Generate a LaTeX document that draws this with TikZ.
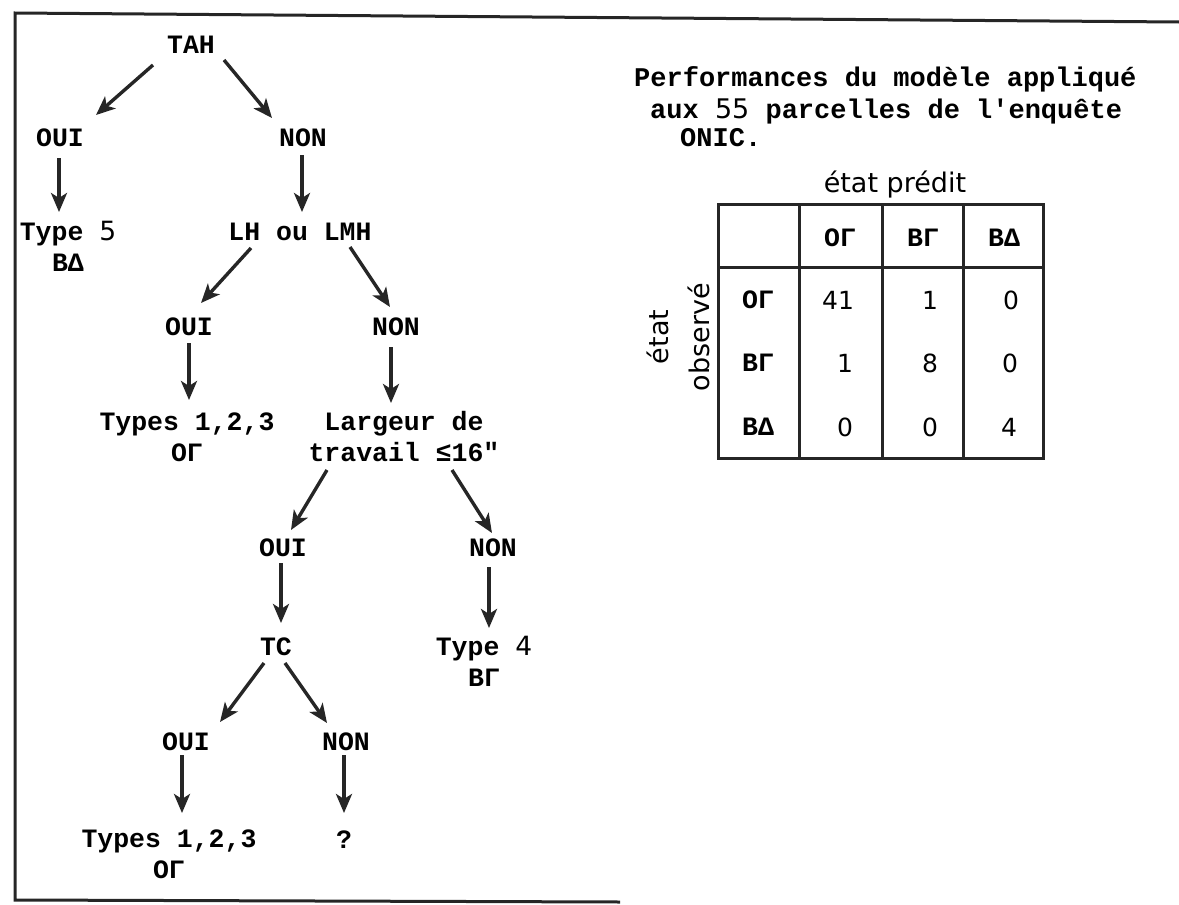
\documentclass[tikz,border=0pt]{standalone}
\usepackage{fontspec}
\setmonofont{Liberation Mono}
\newfontfamily\etatfont{DejaVu Sans}
\usetikzlibrary{arrows.meta}
\tikzset{
  lbl/.style={font=\ttfamily\bfseries\fontsize{26.5}{31}\selectfont, inner sep=0pt,
              anchor=base, align=center},
  ttl/.style={font=\ttfamily\bfseries\fontsize{27}{32}\selectfont, inner sep=0pt,
              anchor=base west, align=left},
  cel/.style={font=\ttfamily\bfseries\fontsize{26.5}{31}\selectfont, inner sep=0pt},
  num/.style={font=\etatfont\fontsize{25}{30}\selectfont, inner sep=0pt},
  eta/.style={font=\etatfont\fontsize{27}{41}\selectfont, inner sep=0pt,
              anchor=base, align=center},
  arr/.style={-{Stealth[length=19pt, width=16pt, inset=5pt]}, line width=3.4pt, draw=black!85},
  trait/.style={line width=3pt, draw=black!85},
}
\begin{document}
\begin{tikzpicture}[x=1pt, y=-1pt]
  \useasboundingbox (0,0) rectangle (1179,905);
  % cadre
  \draw[trait] (1179,22) -- (15,13) -- (15,900) -- (620,902);

  % arbre de decision (base = derniere ligne)
  \node[lbl](tah) at (191,53) {TAH};
  \node[lbl](oui1) at (60,146) {OUI};
  \node[lbl](non1) at (303,146) {NON};
  \node[lbl](t5) at (68,271) {Type {\etatfont\mdseries 5}\\BΔ};
  \node[lbl](lh) at (300,240) {LH ou LMH};
  \node[lbl](oui2) at (189,335) {OUI};
  \node[lbl](non2) at (396,335) {NON};
  \node[lbl](t123a) at (187,461) {Types 1,2,3\\OΓ};
  \node[lbl](larg) at (404,461) {Largeur de\\travail ≤16"};
  \node[lbl](oui3) at (283,556) {OUI};
  \node[lbl](non3) at (493,556) {NON};
  \node[lbl](tc) at (276,655) {TC};
  \node[lbl](t4) at (484,686) {Type {\etatfont\mdseries 4}\\BΓ};
  \node[lbl](oui4) at (186,750) {OUI};
  \node[lbl](non4) at (346,750) {NON};
  \node[lbl](t123b) at (169,878) {Types 1,2,3\\OΓ};
  \node[lbl](inc) at (344,848) {?};

  \draw[arr] ([shift={(-38,12)}]tah.base) -- ([shift={(36,-31)}]oui1.base);
  \draw[arr] ([shift={(33,7)}]tah.base) -- ([shift={(-31,-28)}]non1.base);
  \draw[arr] ([shift={(-1,12)}]oui1.base) -- ([shift={(-9,-59)}]t5.base);
  \draw[arr] ([shift={(-1,9)}]non1.base) -- ([shift={(2,-28)}]lh.base);
  \draw[arr] ([shift={(-49,8)}]lh.base) -- ([shift={(12,-32)}]oui2.base);
  \draw[arr] ([shift={(50,7)}]lh.base) -- ([shift={(-6,-28)}]non2.base);
  \draw[arr] ([shift={(0,8)}]oui2.base) -- ([shift={(2,-61)}]t123a.base);
  \draw[arr] ([shift={(-5,12)}]non2.base) -- ([shift={(-13,-58)}]larg.base);
  \draw[arr] ([shift={(-77,9)}]larg.base) -- ([shift={(8,-26)}]oui3.base);
  \draw[arr] ([shift={(48,9)}]larg.base) -- ([shift={(-1,-23)}]non3.base);
  \draw[arr] ([shift={(-2,7)}]oui3.base) -- ([shift={(5,-32)}]tc.base);
  \draw[arr] ([shift={(-4,11)}]non3.base) -- ([shift={(5,-58)}]t4.base);
  \draw[arr] ([shift={(-12,8)}]tc.base) -- ([shift={(34,-28)}]oui4.base);
  \draw[arr] ([shift={(9,8)}]tc.base) -- ([shift={(-19,-27)}]non4.base);
  \draw[arr] ([shift={(-4,5)}]oui4.base) -- ([shift={(13,-65)}]t123b.base);
  \draw[arr] ([shift={(-2,5)}]non4.base) -- ([shift={(0,-35)}]inc.base);

  % tableau des performances
  \node[ttl](titre) at (634,146) {Performances du modèle appliqué\\
    \hspace*{16pt}aux {\etatfont\mdseries 55} parcelles de l'enquête\\[-4pt]
    \hspace*{46pt}ONIC.};
  \node[eta](pred) at (895,192) {état prédit};
  \node[eta, rotate=90](obs) at (709,337) {état\\observé};

  \draw[trait] (718,204) rectangle (1043,458);
  \draw[trait] (799,204) -- (799,458) (882,204) -- (882,458) (963,204) -- (963,458);
  \draw[trait] (718,267) -- (1043,267);

  \node[cel](h1) at (840,238) {OΓ};
  \node[cel](h2) at (923,238) {BΓ};
  \node[cel](h3) at (1004,238) {BΔ};
  \node[cel](r1) at (758,300) {OΓ};
  \node[cel](r2) at (758,363) {BΓ};
  \node[cel](r3) at (758,427) {BΔ};
  \node[num](v11) at (838,300) {41};
  \node[num](v12) at (930,300) {1};
  \node[num](v13) at (1011,300) {0};
  \node[num](v21) at (845,363) {1};
  \node[num](v22) at (930,363) {8};
  \node[num](v23) at (1010,363) {0};
  \node[num](v31) at (845,427) {0};
  \node[num](v32) at (930,427) {0};
  \node[num](v33) at (1009,427) {4};
\end{tikzpicture}
\end{document}
